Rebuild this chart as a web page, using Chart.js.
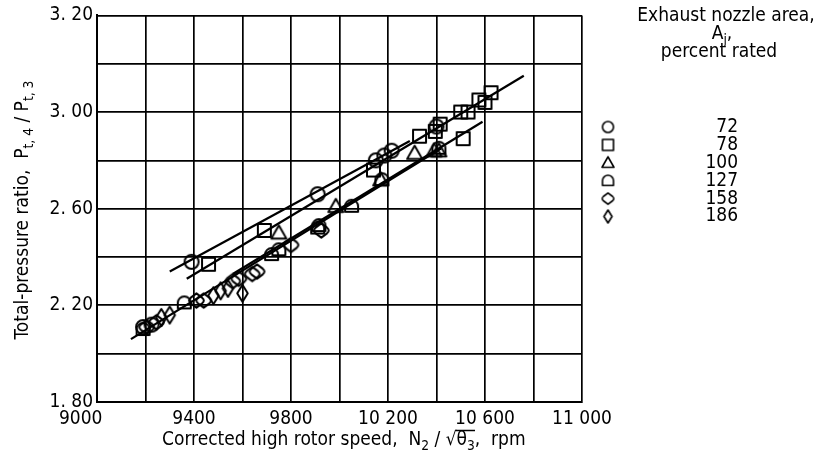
<!DOCTYPE html>
<html>
<head>
<meta charset="utf-8">
<script src="https://cdn.jsdelivr.net/npm/chart.js@4/dist/chart.umd.min.js"></script>
<style>
  html, body { margin: 0; padding: 0; background: #fff; }
  #wrap { width: 820px; height: 458px; }
</style>
</head>
<body>
<div id="wrap"><canvas id="chart" width="820" height="458"></canvas></div>
<script>
// ── dados ─────────────────────────────────────────────────────────────────
const areaLabels = ['72', '78', '100', '127', '158', '186'];

const pts72  = [[9190, 2.11], [9225, 2.12], [9390, 2.38], [9910, 2.66], [10150, 2.80], [10185, 2.82], [10215, 2.84], [10400, 2.94]];
const pts78  = [[9460, 2.37], [9690, 2.51], [10140, 2.76], [10330, 2.90], [10395, 2.92], [10415, 2.95], [10500, 3.00], [10530, 3.00],
                [10575, 3.05], [10600, 3.04], [10625, 3.08], [10510, 2.89]];
const pts100 = [[9750, 2.50], [9985, 2.61], [10170, 2.72], [10310, 2.83], [10390, 2.84], [10410, 2.84]];
const pts127 = [[9190, 2.10], [9360, 2.21], [9720, 2.41], [9750, 2.43], [9910, 2.52], [9915, 2.53], [10050, 2.61], [10175, 2.72], [10410, 2.85]];
const pts158 = [[9205, 2.11], [9245, 2.13], [9410, 2.22], [9440, 2.22], [9560, 2.30], [9585, 2.31], [9640, 2.33], [9660, 2.34], [9800, 2.45], [9925, 2.51]];
const pts186 = [[9265, 2.15], [9300, 2.16], [9480, 2.24], [9510, 2.26], [9540, 2.27], [9600, 2.25]];

// retas ajustadas (extremos)
const fit72  = [[9300, 2.34], [10290, 2.88]];
const fit78  = [[9370, 2.31], [10760, 3.15]];
const fit100 = [[9560, 2.33], [10590, 2.96]];
const fitLow = [[9140, 2.06], [10420, 2.85]];

const xTickValues = [9000, 9400, 9800, 10200, 10600, 11000];
const xTickText   = ['9000      ', '9400', '9800', '10 200', '10 600', '11 000'];
const yTickValues = [1.8, 2.2, 2.6, 3.0, 3.4];
const yTickText   = ['1. 80', '2. 20', '2. 60', '3. 00', '3. 20'];

const FONT = "'Liberation Sans Narrow', 'DejaVu Sans Condensed', 'Roboto Condensed', sans-serif";

// ── símbolos ──────────────────────────────────────────────────────────────
function shapeCanvas(kind, s, lw) {
  const c = document.createElement('canvas');
  c.width = c.height = Math.ceil(s + lw + 4);
  const g = c.getContext('2d');
  const m = c.width / 2, h = s / 2;
  g.strokeStyle = '#000'; g.lineWidth = lw; g.lineJoin = 'round';
  g.beginPath();
  switch (kind) {
    case 'circle': g.arc(m, m, h, 0, Math.PI * 2); break;
    case 'square': g.rect(m - h, m - h, s, s); break;
    case 'triangle':
      g.moveTo(m, m - h); g.lineTo(m + h, m + h * 0.75); g.lineTo(m - h, m + h * 0.75); g.closePath(); break;
    case 'dome':
      g.moveTo(m - h, m + h * 0.85); g.lineTo(m - h, m); g.arc(m, m, h, Math.PI, 0); g.lineTo(m + h, m + h * 0.85); g.closePath(); break;
    case 'hex':
      g.moveTo(m, m - h * 0.75); g.lineTo(m + h * 0.6, m - h * 0.3); g.quadraticCurveTo(m + h * 0.95, m, m + h * 0.6, m + h * 0.3);
      g.lineTo(m, m + h * 0.75); g.lineTo(m - h * 0.6, m + h * 0.3); g.quadraticCurveTo(m - h * 0.95, m, m - h * 0.6, m - h * 0.3);
      g.closePath(); break;
    case 'diamond':
      g.moveTo(m, m - h); g.lineTo(m + h * 0.62, m); g.lineTo(m, m + h); g.lineTo(m - h * 0.62, m); g.closePath(); break;
  }
  g.stroke();
  return c;
}

const kinds = ['circle', 'square', 'triangle', 'dome', 'hex', 'diamond'];
const plotSizes = [14, 13, 15, 13, 19, 17];
const plotShapes = kinds.map((k, i) => shapeCanvas(k, plotSizes[i], 2));
const legendShapes = kinds.map((k, i) => shapeCanvas(k, [11, 11, 12, 11, 15, 13][i], 1.6));

const toXY = arr => arr.map(p => ({ x: p[0], y: p[1] }));

const markerSets = [pts72, pts78, pts100, pts127, pts158, pts186].map((pts, i) => ({
  label: areaLabels[i],
  data: toXY(pts),
  showLine: false,
  pointStyle: plotShapes[i],
  pointRadius: 8,
  pointHoverRadius: 8
}));

const lineSets = [fit72, fit78, fit100, fitLow].map(f => ({
  data: toXY(f),
  showLine: true,
  borderColor: '#000',
  borderWidth: 2.2,
  pointRadius: 0,
  fill: false
}));

// ── texto com subscritos ──────────────────────────────────────────────────
function runsWidth(ctx, runs, size) {
  let w = 0;
  runs.forEach(r => { ctx.font = (r.sub ? size * 0.72 : size) + 'px ' + FONT; w += ctx.measureText(r.t).width; });
  return w;
}
function drawRuns(ctx, runs, x, y, size, align) {
  const total = runsWidth(ctx, runs, size);
  let cx = align === 'center' ? x - total / 2 : x;
  ctx.textBaseline = 'middle'; ctx.textAlign = 'left'; ctx.fillStyle = '#000';
  runs.forEach(r => {
    const sz = r.sub ? size * 0.72 : size;
    ctx.font = sz + 'px ' + FONT;
    const dy = r.sub ? size * 0.32 : 0;
    ctx.fillText(r.t, cx, y + dy);
    const w = ctx.measureText(r.t).width;
    if (r.over) {
      ctx.save(); ctx.lineWidth = 1.5; ctx.strokeStyle = '#000';
      ctx.beginPath(); ctx.moveTo(cx - 1, y - size * 0.5); ctx.lineTo(cx + w + 8, y - size * 0.5); ctx.stroke();
      ctx.restore();
    }
    cx += w;
  });
}

const yTitleRuns = [{ t: 'Total-pressure ratio,  P' }, { t: 't, 4', sub: true }, { t: ' / ' }, { t: 'P' }, { t: 't, 3', sub: true }];
const xTitleRuns = [{ t: 'Corrected high rotor speed,  N' }, { t: '2', sub: true }, { t: ' / ' }, { t: '√' }, { t: 'θ', over: true }, { t: '3', sub: true }, { t: ',  rpm' }];

const annotPlugin = {
  id: 'annot',
  afterDraw(chart) {
    const ctx = chart.ctx;
    ctx.save();
    // título eixo y
    ctx.save();
    ctx.translate(23, 210);
    ctx.rotate(-Math.PI / 2);
    drawRuns(ctx, yTitleRuns, 0, 0, 19, 'center');
    ctx.restore();
    // título eixo x
    drawRuns(ctx, xTitleRuns, 162, 440, 19, 'left');

    // legenda
    ctx.fillStyle = '#000'; ctx.textBaseline = 'middle'; ctx.textAlign = 'center';
    ctx.font = '19px ' + FONT;
    ctx.fillText('Exhaust nozzle area,', 726, 16);
    drawRuns(ctx, [{ t: 'A' }, { t: 'j', sub: true }, { t: ',' }], 722, 34, 19, 'center');
    ctx.font = '19px ' + FONT; ctx.textAlign = 'center'; ctx.textBaseline = 'middle';
    ctx.fillText('percent rated', 719, 52);
    ctx.textAlign = 'right';
    areaLabels.forEach((lab, i) => {
      const y = 127 + i * 17.9;
      const img = legendShapes[i];
      ctx.drawImage(img, 608 - img.width / 2, y - img.height / 2);
      ctx.fillText(lab, 738, y);
    });
    ctx.restore();
  }
};

new Chart(document.getElementById('chart'), {
  type: 'scatter',
  data: { datasets: [...lineSets, ...markerSets] },
  options: {
    responsive: false,
    animation: false,
    devicePixelRatio: 1,
    layout: { padding: { left: 0, right: 238, top: 14, bottom: 0 } },
    plugins: { legend: { display: false }, tooltip: { enabled: false } },
    scales: {
      x: {
        type: 'linear', min: 9000, max: 11000,
        afterFit: s => { s.height = 56; },
        grid: { color: '#000', lineWidth: 1.7, drawTicks: false },
        border: { color: '#000', width: 2 },
        ticks: {
          stepSize: 200, autoSkip: false, maxRotation: 0, padding: 6, color: '#000',
          font: { family: FONT, size: 19 },
          callback: v => { const i = xTickValues.indexOf(v); return i >= 0 ? xTickText[i] : ''; }
        }
      },
      y: {
        type: 'linear', min: 1.8, max: 3.4,
        afterFit: s => { s.width = 97; },
        grid: { color: '#000', lineWidth: 1.7, drawTicks: false },
        border: { color: '#000', width: 2 },
        ticks: {
          stepSize: 0.2, autoSkip: false, padding: 4, color: '#000',
          font: { family: FONT, size: 19 },
          callback: v => { const i = yTickValues.findIndex(t => Math.abs(t - v) < 1e-6); return i >= 0 ? yTickText[i] : ''; }
        }
      }
    }
  },
  plugins: [annotPlugin]
});
</script>
</body>
</html>
